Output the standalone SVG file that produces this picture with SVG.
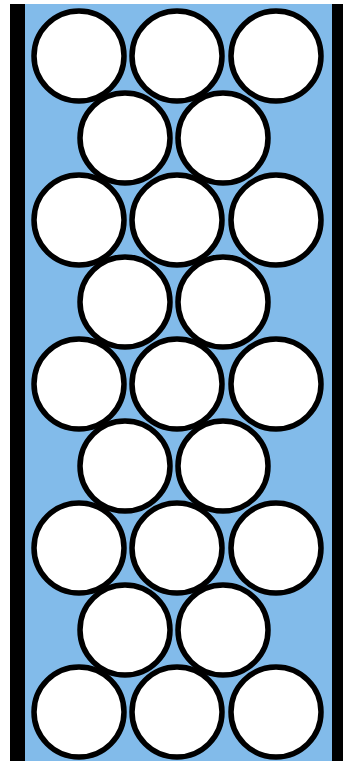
<svg xmlns="http://www.w3.org/2000/svg" width="343" height="764" viewBox="0 0 343 764">
<style>
.bead{fill:#ffffff;stroke:#000000;stroke-width:5.5}
.wall{fill:#000000}
</style>
<rect x="0" y="0" width="343" height="764" fill="#ffffff"/>
<rect x="24" y="4" width="309" height="757" fill="#82bbea"/>
<rect class="wall" x="10" y="4" width="15" height="757"/>
<rect class="wall" x="332" y="4" width="11" height="757"/>
<g id="beads">
<g id="r1"><circle class="bead" cx="79" cy="56" r="45"/><circle class="bead" cx="177" cy="56" r="45"/><circle class="bead" cx="276" cy="56" r="45"/></g>
<g id="r2"><circle class="bead" cx="125" cy="138" r="45"/><circle class="bead" cx="223" cy="138" r="45"/></g>
<g id="r3"><circle class="bead" cx="79" cy="220" r="45"/><circle class="bead" cx="177" cy="220" r="45"/><circle class="bead" cx="276" cy="220" r="45"/></g>
<g id="r4"><circle class="bead" cx="125" cy="302" r="45"/><circle class="bead" cx="223" cy="302" r="45"/></g>
<g id="r5"><circle class="bead" cx="79" cy="384" r="45"/><circle class="bead" cx="177" cy="384" r="45"/><circle class="bead" cx="276" cy="384" r="45"/></g>
<g id="r6"><circle class="bead" cx="125" cy="466" r="45"/><circle class="bead" cx="223" cy="466" r="45"/></g>
<g id="r7"><circle class="bead" cx="79" cy="548" r="45"/><circle class="bead" cx="177" cy="548" r="45"/><circle class="bead" cx="276" cy="548" r="45"/></g>
<g id="r8"><circle class="bead" cx="125" cy="630" r="45"/><circle class="bead" cx="223" cy="630" r="45"/></g>
<g id="r9"><circle class="bead" cx="79" cy="712" r="45"/><circle class="bead" cx="177" cy="712" r="45"/><circle class="bead" cx="276" cy="712" r="45"/></g>
</g>
</svg>
